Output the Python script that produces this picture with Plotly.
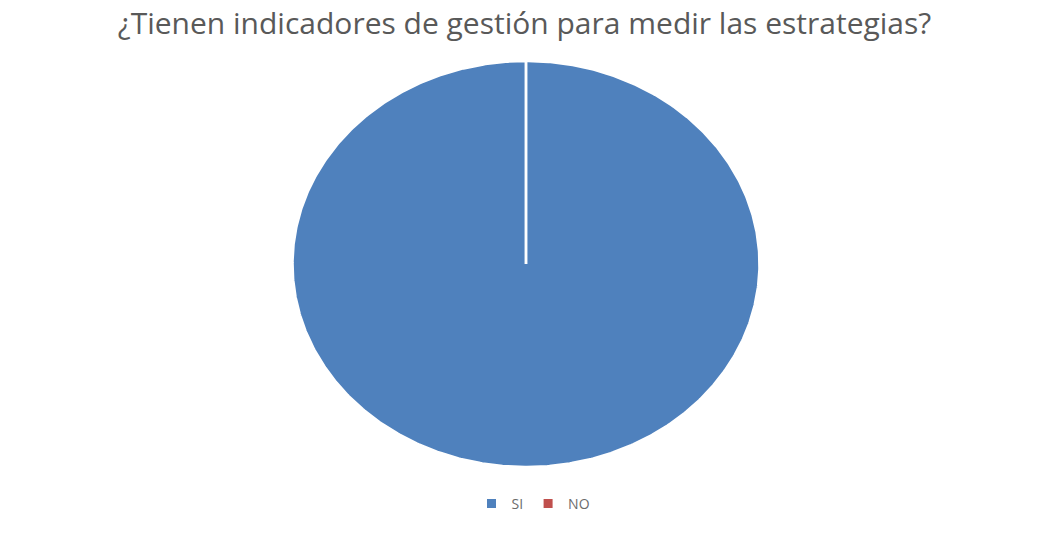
import numpy as np
import plotly.graph_objects as go

# Survey answers
categories = ["SI", "NO"]
values = [100, 0]
colors = ["#4F81BD", "#C0504D"]
title_text = "¿Tienen indicadores de gestión para medir las estrategias?"

fig = go.Figure()

# Pie drawn as filled wedges on a stretched x/y plane (elliptical pie)
total = sum(values)
start = 0.0
for name, v, c in zip(categories, values, colors):
    frac = v / total
    # angles measured clockwise from 12 o'clock
    t = np.linspace(start, start + frac, max(int(frac * 720), 2)) * 2 * np.pi
    xs = np.concatenate([[0], np.sin(t), [0]])
    ys = np.concatenate([[0], np.cos(t), [0]])
    fig.add_trace(go.Scatter(
        x=xs, y=ys, mode="lines", fill="toself", fillcolor=c,
        line=dict(color="white", width=2.5), hoverinfo="skip",
        showlegend=False, name=name,
    ))
    start += frac

# Legend entries
for name, c in zip(categories, colors):
    fig.add_trace(go.Scatter(
        x=[None], y=[None], mode="markers", name=name,
        marker=dict(symbol="square", size=9, color=c),
    ))

W, H = 1049, 533
cx, cy = 526, 264      # centre in pixels (from top-left)
rx, ry = 233.5, 203.0  # radii in pixels

fig.update_layout(
    width=W, height=H,
    margin=dict(l=0, r=0, t=0, b=0),
    paper_bgcolor="white", plot_bgcolor="white",
    xaxis=dict(range=[-cx / rx, (W - cx) / rx], visible=False, fixedrange=True),
    yaxis=dict(range=[-(H - cy) / ry, cy / ry], visible=False, fixedrange=True),
    title=dict(text=title_text, x=0.5, xanchor="center", y=1 - 23 / H, yanchor="middle",
               font=dict(family="Open Sans", size=30, color="#595959")),
    legend=dict(orientation="h", x=0.5 + 9 / W, xanchor="center", y=1 - 504 / H, yanchor="middle",
                font=dict(family="Open Sans", size=14, color="#6b6b6b"),
                itemwidth=30, tracegroupgap=0),
    showlegend=True,
)

fig.write_html("out.html")
